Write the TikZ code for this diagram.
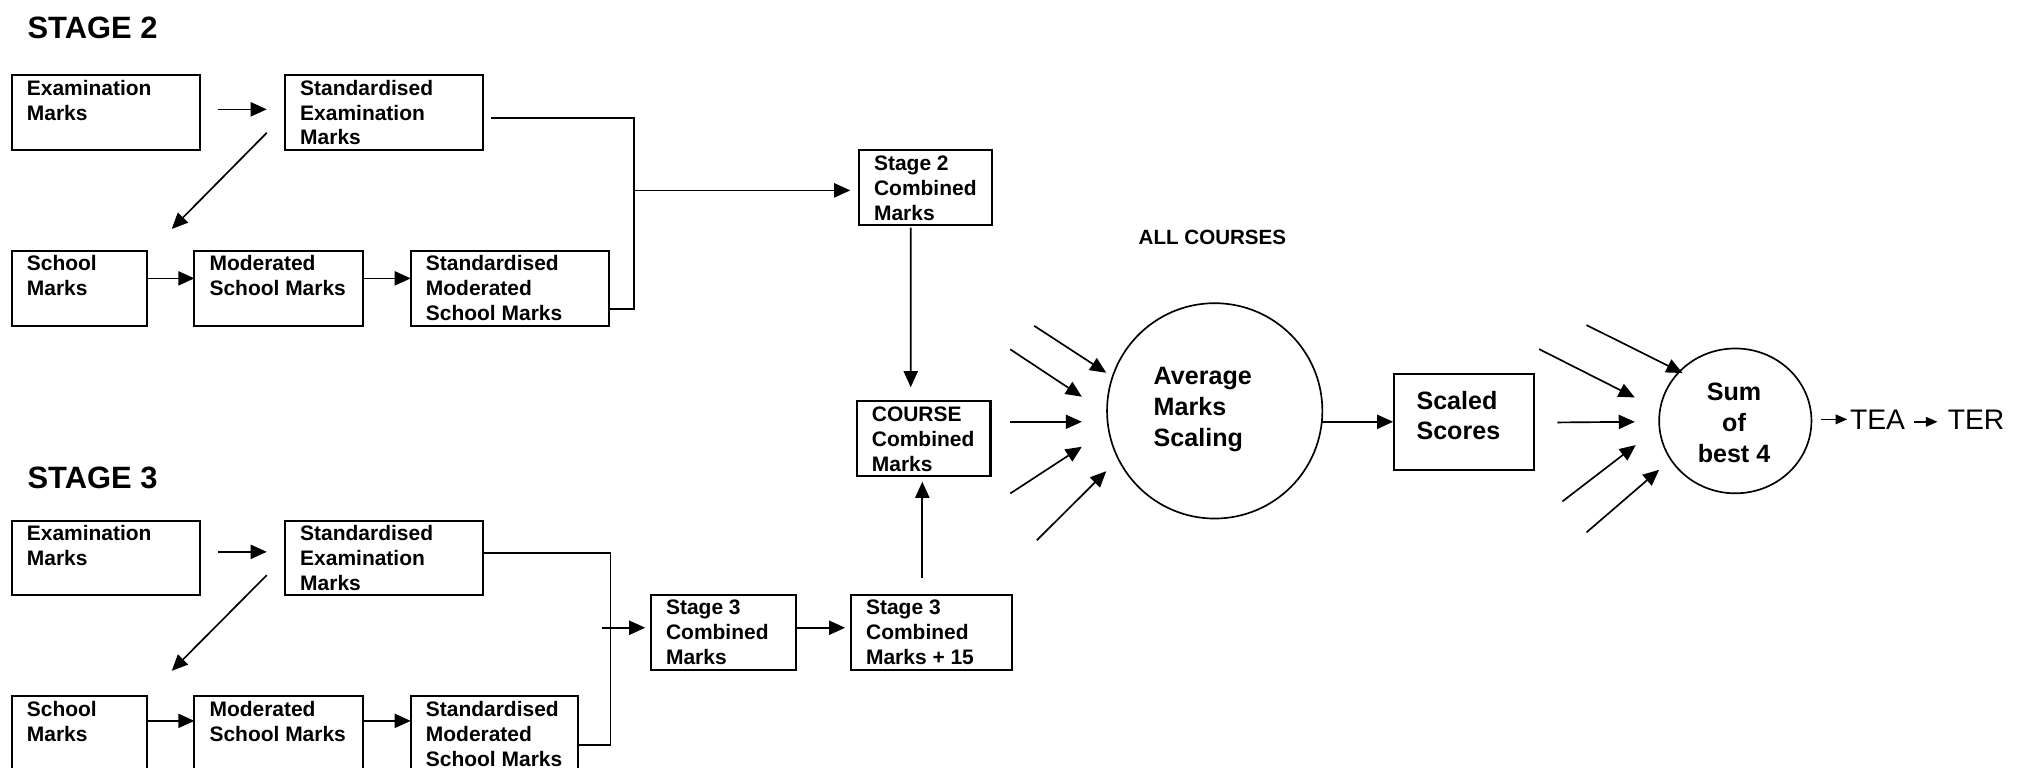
\documentclass[tikz,border=0pt]{standalone}
\usepackage{fontspec}
\setmainfont{Liberation Sans}
\usetikzlibrary{arrows.meta,calc,shapes.geometric}
\tikzset{
  bx/.style={draw, line width=1.6pt, rectangle, inner sep=0pt, outer sep=0pt},
  lbl/.style={font=\bfseries\fontsize{16.3}{19.4}\selectfont, align=left, inner sep=0pt, anchor=base west},
  big/.style={font=\bfseries\fontsize{19.5}{24}\selectfont, inner sep=0pt},
  ttl/.style={font=\bfseries\fontsize{24}{28}\selectfont, inner sep=0pt, anchor=base west},
  ln/.style={line width=1.3pt},
  arr/.style={line width=1.3pt, -{Triangle[length=12.5pt,width=11pt]}},
  sarr/.style={line width=1.1pt, -{Triangle[length=9pt,width=7.5pt]}},
  circ/.style={draw, line width=1.3pt, inner sep=0pt, outer sep=0pt}
}
\begin{document}
\begin{tikzpicture}[x=1pt,y=-1pt]
\useasboundingbox (0,0) rectangle (1568,597);
\clip (0,0) rectangle (1568,597);

% titles
\node[ttl] (t2) at (21.3,30) {STAGE 2};
\node[ttl] (t3) at (21.3,380) {STAGE 3};
\node[font=\bfseries\fontsize{16}{19}\selectfont, inner sep=0pt, anchor=base west] (all) at (885,190) {ALL COURSES};

% ---------- Stage 2 boxes
\node[bx, minimum width=146.4pt, minimum height=58.3pt] (exA) at (82.3,87.45) {};
\node[bx, minimum width=153.7pt, minimum height=58.3pt] (sxA) at (298.45,87.45) {};
\node[bx, minimum width=105.5pt, minimum height=58.4pt] (scA) at (61.85,224.1) {};
\node[bx, minimum width=131.4pt, minimum height=58.4pt] (mdA) at (216.8,224.1) {};
\node[bx, minimum width=154.3pt, minimum height=58.4pt] (smA) at (396.45,224.1) {};
\node[lbl] (exAt) at (20.7,93.3) {Examination\\Marks};
\node[lbl] (sxAt) at (233.2,112.7) {Standardised\\Examination\\Marks};
\node[lbl] (scAt) at (20.7,229.9) {School\\Marks};
\node[lbl] (mdAt) at (162.7,229.9) {Moderated\\School Marks};
\node[lbl] (smAt) at (330.9,249.3) {Standardised\\Moderated\\School Marks};

% ---------- Stage 3 boxes
\node[bx, minimum width=146.4pt, minimum height=57.8pt] (exB) at (82.3,433.8) {};
\node[bx, minimum width=153.7pt, minimum height=57.8pt] (sxB) at (298.45,433.8) {};
\node[bx, minimum width=105.5pt, minimum height=59pt] (scB) at (61.85,570.7) {};
\node[bx, minimum width=131.4pt, minimum height=59pt] (mdB) at (216.8,570.7) {};
\node[bx, minimum width=130.2pt, minimum height=59pt] (smB) at (384.4,570.7) {};
\node[lbl] (exBt) at (20.7,439.9) {Examination\\Marks};
\node[lbl] (sxBt) at (233.2,459.3) {Standardised\\Examination\\Marks};
\node[lbl] (scBt) at (20.7,576.2) {School\\Marks};
\node[lbl] (mdBt) at (162.7,576.2) {Moderated\\School Marks};
\node[lbl] (smBt) at (330.9,595.6) {Standardised\\Moderated\\School Marks};

% ---------- combined boxes
\node[bx, minimum width=103.7pt, minimum height=58.4pt] (s2c) at (719.55,145.8) {};
\node[lbl] (s2ct) at (679.3,171.2) {Stage 2\\Combined\\Marks};
\node[bx, minimum width=104pt, minimum height=58.2pt] (crs) at (718,340.9) {};
\node[lbl] (crst) at (677.6,366.2) {COURSE\\Combined\\Marks};
\node[bx, minimum width=112.7pt, minimum height=58.6pt] (s3c) at (562.35,491.7) {};
\node[lbl] (s3ct) at (517.6,516.8) {Stage 3\\Combined\\Marks};
\node[bx, minimum width=125.2pt, minimum height=58.6pt] (s3p) at (724.1,491.7) {};
\node[lbl] (s3pt) at (673.1,516.8) {Stage 3\\Combined\\Marks + 15};

% ---------- scaling
\node[circ, circle, minimum size=167.4pt] (avg) at (944.3,319.4) {};
\node[big, align=left, anchor=base west] (avgt) at (896.7,346.9) {Average\\Marks\\Scaling};
\node[bx, minimum width=108.6pt, minimum height=74.7pt] (ssc) at (1138.3,328.15) {};
\node[big, align=left, anchor=base west] (ssct) at (1101,342) {Scaled\\Scores};
\node[circ, ellipse, minimum width=118.4pt, minimum height=112.6pt] (sum) at (1349,327.2) {};
\node[big, align=center, anchor=base] (sumt) at (1348,359.6) {Sum\\of\\best 4};
\node[font=\fontsize{22}{26}\selectfont, inner sep=0pt, anchor=base west] (tea) at (1438,334) {TEA};
\node[font=\fontsize{22}{26}\selectfont, inner sep=0pt, anchor=base west] (ter) at (1514,334) {TER};

% ---------- Stage 2 connectors
\draw[arr] ([shift={(14.3pt,2.45pt)}]exA.east) -- ([shift={(-14.2pt,2.45pt)}]sxA.west);
\draw[arr] ([shift={(-14.2pt,13.4pt)}]sxA.south west) -- ([shift={(18.9pt,16.9pt)}]scA.north east);
\draw[arr] ([yshift=7.7pt]scA.east) -- ([yshift=7.7pt]mdA.west);
\draw[arr] ([yshift=7.7pt]mdA.east) -- ([yshift=7.7pt]smA.west);
\coordinate (jA) at (493,148);
\draw[ln] ([shift={(6.3pt,-4.5pt)}]sxA.east) -| (jA) |- ([yshift=-15.9pt]smA.east);
\draw[arr, shorten >=6.7pt] (jA) -- (s2c.west |- jA);
\draw[arr] ([shift={(-11.5pt,-2pt)}]s2c.south) -- ([shift={(-10pt,10.8pt)}]crs.north);

% ---------- Stage 3 connectors
\draw[arr] ([shift={(14.3pt,4.8pt)}]exB.east) -- ([shift={(-14.2pt,4.8pt)}]sxB.west);
\draw[arr] ([shift={(-14.2pt,15.6pt)}]sxB.south west) -- ([shift={(18.9pt,19.7pt)}]scB.north east);
\draw[arr] ([yshift=10.3pt]scB.east) -- ([yshift=10.3pt]mdB.west);
\draw[arr] ([yshift=10.3pt]mdB.east) -- ([yshift=10.3pt]smB.west);
\coordinate (jB) at (474.5,488);
\coordinate (jBs) at (467.9,488);
\draw[ln] ([yshift=3.8pt]sxB.east) -| (jB) |- ([yshift=-8.3pt]smB.east);
\draw[arr, shorten >=4.4pt] (jBs) -- (s3c.west |- jBs);
\draw[arr, shorten >=4.5pt] ([shift={(0.8pt,3.7pt)}]s3c.east) -- ([yshift=3.7pt]s3p.west);
\draw[arr] ([shift={(-7.1pt,13.4pt)}]s3p.north) -- ([shift={(-1pt,-4.5pt)}]crs.south);

% ---------- fan into averaging circle
\coordinate (fa1) at (804,253.3);
\coordinate (fa2) at (785.4,271.6);
\coordinate (fa3) at (785.4,327.9);
\coordinate (fa4) at (785.4,383.6);
\coordinate (fa5) at (806,420);
\draw[arr] (fa1) -- ($(avg.center)+(-84.3,-29.6)$);
\draw[arr] (fa2) -- ($(avg.center)+(-103.3,-11)$);
\draw[arr] (fa3) -- ($(avg.center)+(-103.3,8.5)$);
\draw[arr] (fa4) -- ($(avg.center)+(-103.3,27.9)$);
\draw[arr] (fa5) -- ($(avg.center)+(-84.3,46.9)$);
\draw[arr, shorten >=1pt] ([yshift=-8.5pt]avg.east) -- ([yshift=-8.5pt]avg.east -| ssc.west);

% ---------- fan into sum circle
\coordinate (fb1) at (1233.3,252.7);
\coordinate (fb2) at (1196.5,271.4);
\coordinate (fb3) at (1210.7,328.4);
\coordinate (fb4) at (1214.6,389.8);
\coordinate (fb5) at (1233.3,413.9);
\draw[arr] (fb1) -- ($(sum.center)+(-41,-37.2)$);
\draw[arr] (fb2) -- ($(sum.center)+(-78.1,-18.2)$);
\draw[arr] (fb3) -- ($(sum.center)+(-78.1,0.7)$);
\draw[arr] (fb4) -- ($(sum.center)+(-77.4,18.8)$);
\draw[arr] (fb5) -- ($(sum.center)+(-59.2,38)$);

% ---------- TEA / TER
\draw[sarr] ([shift={(7.6pt,1.2pt)}]sum.east) -- (1436,326);
\draw[sarr] ([xshift=7pt]tea.east |- 0,327.9) -- ([xshift=-7.8pt]ter.west |- 0,327.9);
\end{tikzpicture}
\end{document}
